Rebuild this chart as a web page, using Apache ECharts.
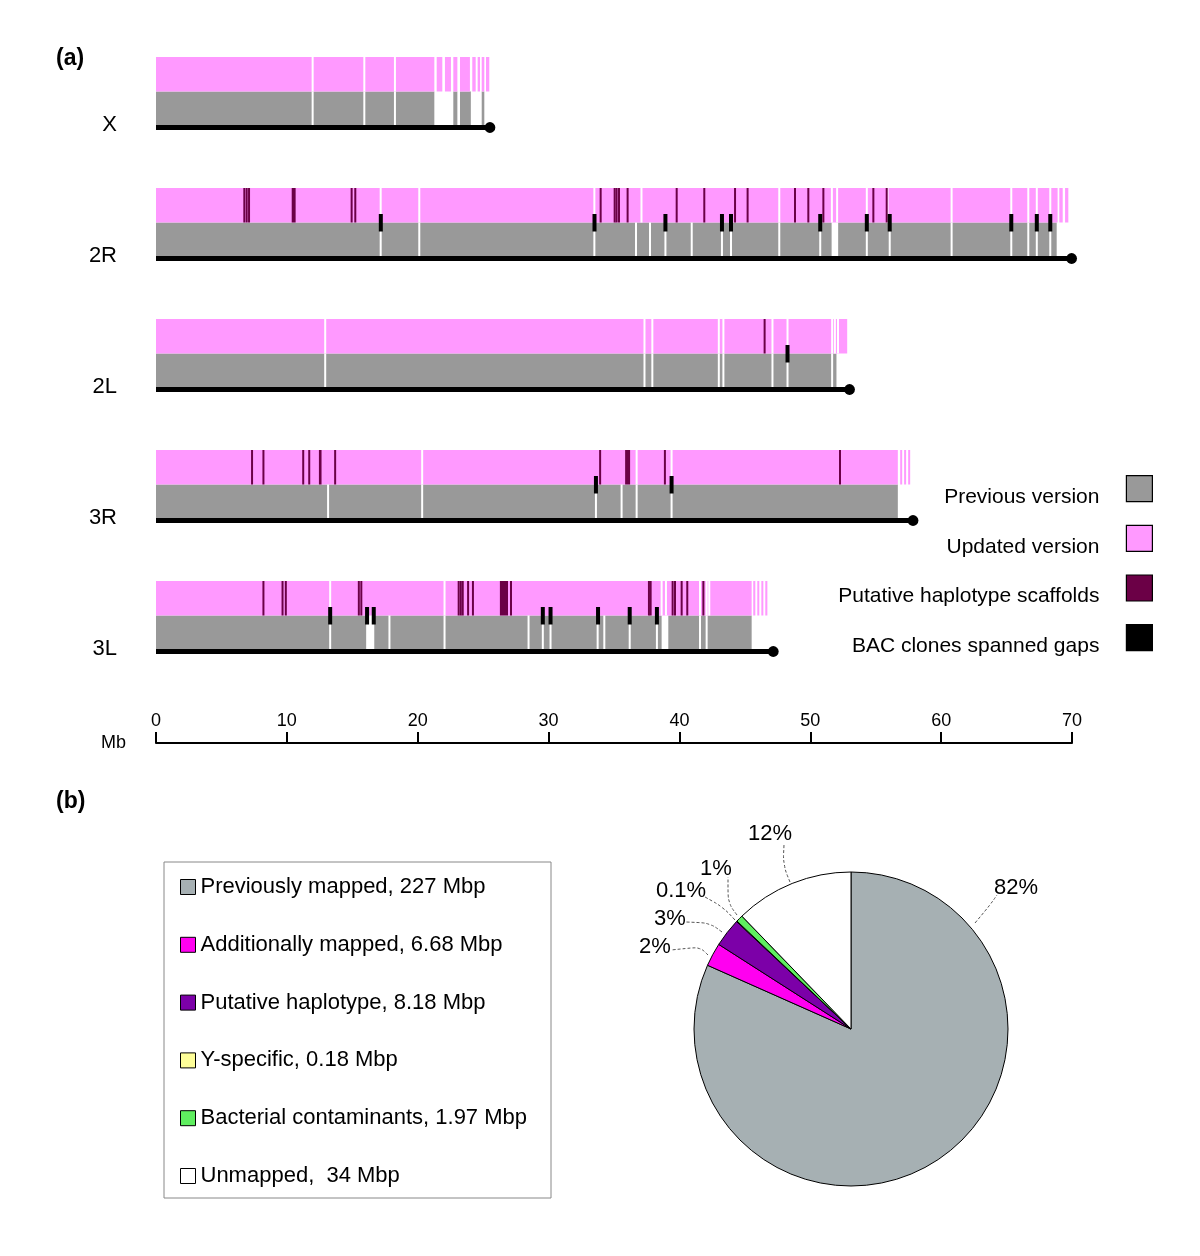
<!DOCTYPE html>
<html><head><meta charset="utf-8">
<script src="https://cdn.jsdelivr.net/npm/echarts@6/dist/echarts.min.js"></script>
<style>html,body{margin:0;padding:0;background:#fff}#chart{width:1200px;height:1256px}</style>
</head><body><div id="chart"></div>
<script>
// ---------------- data (a) ----------------
const chromosomes = ['X', '2R', '2L', '3R', '3L'];
const chromLength = [25.52, 69.97, 53.0, 57.85, 47.17];
const axisTicks = [0, 10, 20, 30, 40, 50, 60, 70];

// Updated version (pink) spans, Mb
const updatedSpans = [
  [[0,21.27],[21.45,21.88],[22.08,22.54],[22.72,23.03],[23.23,23.99],[24.17,24.43],[24.58,24.76],[24.89,25.09],[25.22,25.47]],
  [[0,68.9],[69.03,69.29],[69.47,69.72]],
  [[0,52.82]],
  [[0,56.69],[56.87,57.02],[57.17,57.32],[57.48,57.63]],
  [[0,45.52],[45.64,45.8],[45.95,46.1],[46.26,46.41],[46.56,46.72]]
];
// gaps (white lines) in the updated version, Mb
const updatedGaps = [
  [11.97, 15.92, 18.26],
  [17.17, 20.12, 33.5, 37.1, 47.63, 51.65, 52.05, 54.32, 55.9, 60.8, 65.36, 66.66, 67.31, 68.34],
  [12.93, 37.33, 37.93, 43.01, 43.36, 47.11, 48.26, 51.67, 51.88, 52.12],
  [20.34, 36.73, 39.4],
  [13.31, 22.05, 38.64, 38.97, 41.57, 42.08, 42.28]
];
// Previous version (grey) spans, Mb
const previousSpans = [
  [[0,21.27],[22.72,23.03],[23.23,24.06],[24.89,25.09]],
  [[0,51.63],[52.13,68.83]],
  [[0,52.0]],
  [[0,56.69]],
  [[0,16.06],[16.68,38.64],[39.15,45.52]]
];
const previousGaps = [
  [11.97, 15.92, 18.26],
  [17.17, 20.12, 33.5, 36.68, 37.75, 38.93, 40.94, 43.25, 43.94, 47.63, 50.76, 54.32, 56.07, 60.8, 65.36, 66.66, 67.31, 68.34],
  [12.93, 37.33, 37.93, 43.01, 43.36, 47.11, 48.26, 51.67],
  [13.15, 20.34, 33.62, 35.58, 36.73, 39.4],
  [13.31, 17.84, 22.05, 28.47, 29.56, 30.15, 33.75, 34.26, 36.2, 38.28, 41.57, 42.08]
];
// Putative haplotype scaffolds (single position or [start,end]), Mb
const haplotypes = [
  [],
  [6.75, 6.93, 7.11, [10.37,10.67], 14.95, 15.23, 33.98, 35.05, 35.2, 35.38, 36.04, 39.79, 41.9, 44.25, 45.21, 48.83, 49.85, 51.0, 54.82, 55.84],
  [46.51],
  [7.34, 8.21, 11.25, 11.71, [12.45,12.65], 13.69, 33.94, [35.85,36.23], 38.89, 52.27],
  [8.21, 9.67, 9.92, 15.5, 15.69, 23.13, 23.29, 23.44, 23.85, 24.22, [26.28,26.9], 27.13, 37.67, 37.8, 39.48, 39.66, 40.17, 40.6, 41.83]
];
// BAC clones spanned gaps, Mb
const bacClones = [
  [],
  [17.18, 33.51, 38.93, 43.25, 43.94, 50.76, 54.32, 56.07, 65.36, 67.31, 68.34],
  [48.26],
  [33.62, 39.4],
  [13.31, 16.13, 16.64, 29.56, 30.15, 33.78, 36.2, 38.28]
];

// ---------------- data (b) ----------------
const pieCategories = ['Previously mapped, 227 Mbp', 'Additionally mapped, 6.68 Mbp', 'Putative haplotype, 8.18 Mbp',
  'Y-specific, 0.18 Mbp', 'Bacterial contaminants, 1.97 Mbp', 'Unmapped,  34 Mbp'];
const pieValues = [227, 6.68, 8.18, 0.18, 1.97, 34];
const pieColors = ['#a6b0b3', '#ff00f0', '#7c00a8', '#ffff99', '#5fee5f', '#ffffff'];

// ---------------- build ----------------
function spanData(lists) { const o = []; lists.forEach((l, r) => l.forEach(s => o.push([s[0], s[1], r]))); return o; }
function pointData(lists) { const o = []; lists.forEach((l, r) => l.forEach(v => o.push([v, r]))); return o; }
function rangeData(lists) { const o = []; lists.forEach((l, r) => l.forEach(v => o.push(typeof v === 'number' ? [v, v, r] : [v[0], v[1], r]))); return o; }

// vertical layout inside a chromosome row (px from band centre)
const PINK_TOP = -52.5, SPLIT = -18, GREY_BOTTOM = 15.5, LINE_Y = 18;

function spanRender(top, bottom, color) {
  return function (params, api) {
    const r = api.value(2);
    const a = api.coord([api.value(0), r]);
    const b = api.coord([api.value(1), r]);
    return { type: 'rect', shape: { x: a[0], y: a[1] + top, width: Math.max(b[0] - a[0], 2), height: bottom - top },
      style: { fill: color } };
  };
}
function gapRender(top, bottom) {
  return function (params, api) {
    const c = api.coord([api.value(0), api.value(1)]);
    return { type: 'rect', shape: { x: c[0] - 1, y: c[1] + top, width: 2, height: bottom - top }, style: { fill: '#ffffff' } };
  };
}
const HAP_COLOR = '#6b0046';

const option = {
  animation: false,
  textStyle: { fontFamily: 'Liberation Sans, Arial, sans-serif', color: '#000' },
  title: [
    { text: '(a)', left: 56, top: 47, padding: 0, textStyle: { fontSize: 23, fontWeight: 'bold', color: '#000' } },
    { text: '(b)', left: 56, top: 790, padding: 0, textStyle: { fontSize: 23, fontWeight: 'bold', color: '#000' } }
  ],
  grid: { left: 156, right: 128, top: 44, height: 655 },
  xAxis: {
    type: 'value', min: 0, max: 70, interval: 10, position: 'bottom', offset: 44,
    name: 'Mb', nameLocation: 'start', nameGap: 30,
    nameTextStyle: { fontSize: 18, color: '#000', verticalAlign: 'middle' },
    axisLine: { show: true, lineStyle: { color: '#000', width: 2 } },
    axisTick: { show: true, inside: true, length: 11, lineStyle: { color: '#000', width: 2 } },
    axisLabel: { inside: true, margin: 13, fontSize: 18, color: '#000',
      formatter: v => axisTicks.indexOf(v) >= 0 ? String(v) : '' },
    splitLine: { show: false }
  },
  yAxis: {
    type: 'category', inverse: true, data: chromosomes,
    axisLine: { show: false }, axisTick: { show: false }, splitLine: { show: false },
    axisLabel: { fontSize: 22, color: '#000', margin: 39, verticalAlign: 'top', lineHeight: 31 }
  },
  legend: [
    {
      orient: 'vertical', right: 47, top: 475, align: 'right', itemWidth: 26, itemHeight: 26, itemGap: 17.1,
      padding: 0, selectedMode: false,
      formatter: n => '{s| }\n{t|' + n + '}',
      textStyle: { fontSize: 21, color: '#000', padding: [0, 22, 0, 0],
        rich: { s: { fontSize: 2, lineHeight: 17 }, t: { fontSize: 21, lineHeight: 21, color: '#000' } } },
      data: [
        { name: 'Previous version', icon: 'rect', itemStyle: { color: '#999999', borderColor: '#000', borderWidth: 1.2 } },
        { name: 'Updated version', icon: 'rect', itemStyle: { color: '#ff99ff', borderColor: '#000', borderWidth: 1.2 } },
        { name: 'Putative haplotype scaffolds', icon: 'rect', itemStyle: { color: HAP_COLOR, borderColor: '#000', borderWidth: 1.2 } },
        { name: 'BAC clones spanned gaps', icon: 'rect', itemStyle: { color: '#000', borderColor: '#000', borderWidth: 1.2 } }
      ]
    },
    {
      orient: 'vertical', left: 164, top: 862, itemWidth: 15, itemHeight: 15, itemGap: 35.8,
      padding: [14, 24, 11, 16], borderColor: '#888', borderWidth: 1, selectedMode: false,
      textStyle: { fontSize: 22, color: '#000' },
      data: pieCategories.map((n, i) => ({ name: n, icon: 'rect', itemStyle: { color: pieColors[i], borderColor: '#000', borderWidth: 1 } }))
    }
  ],
  series: [
    { type: 'custom', name: 'Previous version', renderItem: spanRender(SPLIT, GREY_BOTTOM, '#999999'),
      encode: { x: [0, 1], y: 2 }, data: spanData(previousSpans) },
    { type: 'custom', name: 'Updated version', renderItem: spanRender(PINK_TOP, SPLIT, '#ff99ff'),
      encode: { x: [0, 1], y: 2 }, data: spanData(updatedSpans) },
    { type: 'custom', name: 'updatedGaps', renderItem: gapRender(PINK_TOP, SPLIT),
      encode: { x: 0, y: 1 }, data: pointData(updatedGaps) },
    { type: 'custom', name: 'previousGaps', renderItem: gapRender(SPLIT, GREY_BOTTOM),
      encode: { x: 0, y: 1 }, data: pointData(previousGaps) },
    { type: 'custom', name: 'Putative haplotype scaffolds', renderItem: function (params, api) {
        const r = api.value(2);
        const a = api.coord([api.value(0), r]);
        const b = api.coord([api.value(1), r]);
        const w = Math.max(b[0] - a[0], 2);
        return { type: 'rect', shape: { x: (a[0] + b[0]) / 2 - w / 2, y: a[1] + PINK_TOP, width: w, height: SPLIT - PINK_TOP },
          style: { fill: HAP_COLOR } };
      }, encode: { x: [0, 1], y: 2 }, data: rangeData(haplotypes) },
    { type: 'custom', name: 'BAC clones spanned gaps', renderItem: function (params, api) {
        const c = api.coord([api.value(0), api.value(1)]);
        return { type: 'rect', shape: { x: c[0] - 2, y: c[1] + SPLIT - 8.5, width: 4, height: 17.5 }, style: { fill: '#000' } };
      }, encode: { x: 0, y: 1 }, data: pointData(bacClones) },
    { type: 'custom', name: 'chromosome', renderItem: function (params, api) {
        const r = api.value(1);
        const a = api.coord([0, r]);
        const b = api.coord([api.value(0), r]);
        return { type: 'group', children: [
          { type: 'rect', shape: { x: a[0], y: a[1] + LINE_Y - 2.5, width: b[0] - a[0], height: 5 }, style: { fill: '#000' } },
          { type: 'circle', shape: { cx: b[0], cy: b[1] + LINE_Y, r: 5.4 }, style: { fill: '#000' } }
        ] };
      }, encode: { x: 0, y: 1 }, data: chromLength.map((l, r) => [l, r]) },
    {
      type: 'pie', name: 'genome', center: [851, 1029], radius: 157, startAngle: 90, clockwise: true,
      avoidLabelOverlap: false,
      itemStyle: { borderColor: '#000', borderWidth: 1 },
      label: { show: true, fontSize: 22, color: '#000',
        formatter: p => (p.percent < 0.5 ? p.percent.toFixed(1) : Math.round(p.percent)) + '%' },
      labelLine: { show: true, smooth: 0.35, lineStyle: { color: '#555', width: 1, type: [3, 2] } },
      labelLayout: function (p) {
        // label centre and leader-line points, as offsets (px) from the pie centre
        const spots = [
          { t: [165, -141], l: [[124, -106], [139, -124], [146, -134]] },
          { t: [-196, -82], l: [[-143, -74], [-151, -82], [-180, -79]] },
          { t: [-181, -110], l: [[-129, -97], [-141, -106], [-165, -107]] },
          { t: [-170, -138], l: [[-116, -109], [-128, -122], [-146, -132]] },
          { t: [-135, -160], l: [[-114, -114], [-123, -126], [-123, -152]] },
          { t: [-81, -195], l: [[-61, -147], [-68, -164], [-67, -184]] }
        ];
        const s = spots[p.dataIndex];
        const cx = 851, cy = 1029;
        return { x: cx + s.t[0], y: cy + s.t[1], align: 'center', verticalAlign: 'middle',
          labelLinePoints: s.l.map(q => [cx + q[0], cy + q[1]]) };
      },
      data: pieCategories.map((n, i) => ({ name: n, value: pieValues[i], itemStyle: { color: pieColors[i] } }))
    }
  ]
};

const chart = echarts.init(document.getElementById('chart'), null, { renderer: 'canvas' });
chart.setOption(option);
</script>
</body></html>
